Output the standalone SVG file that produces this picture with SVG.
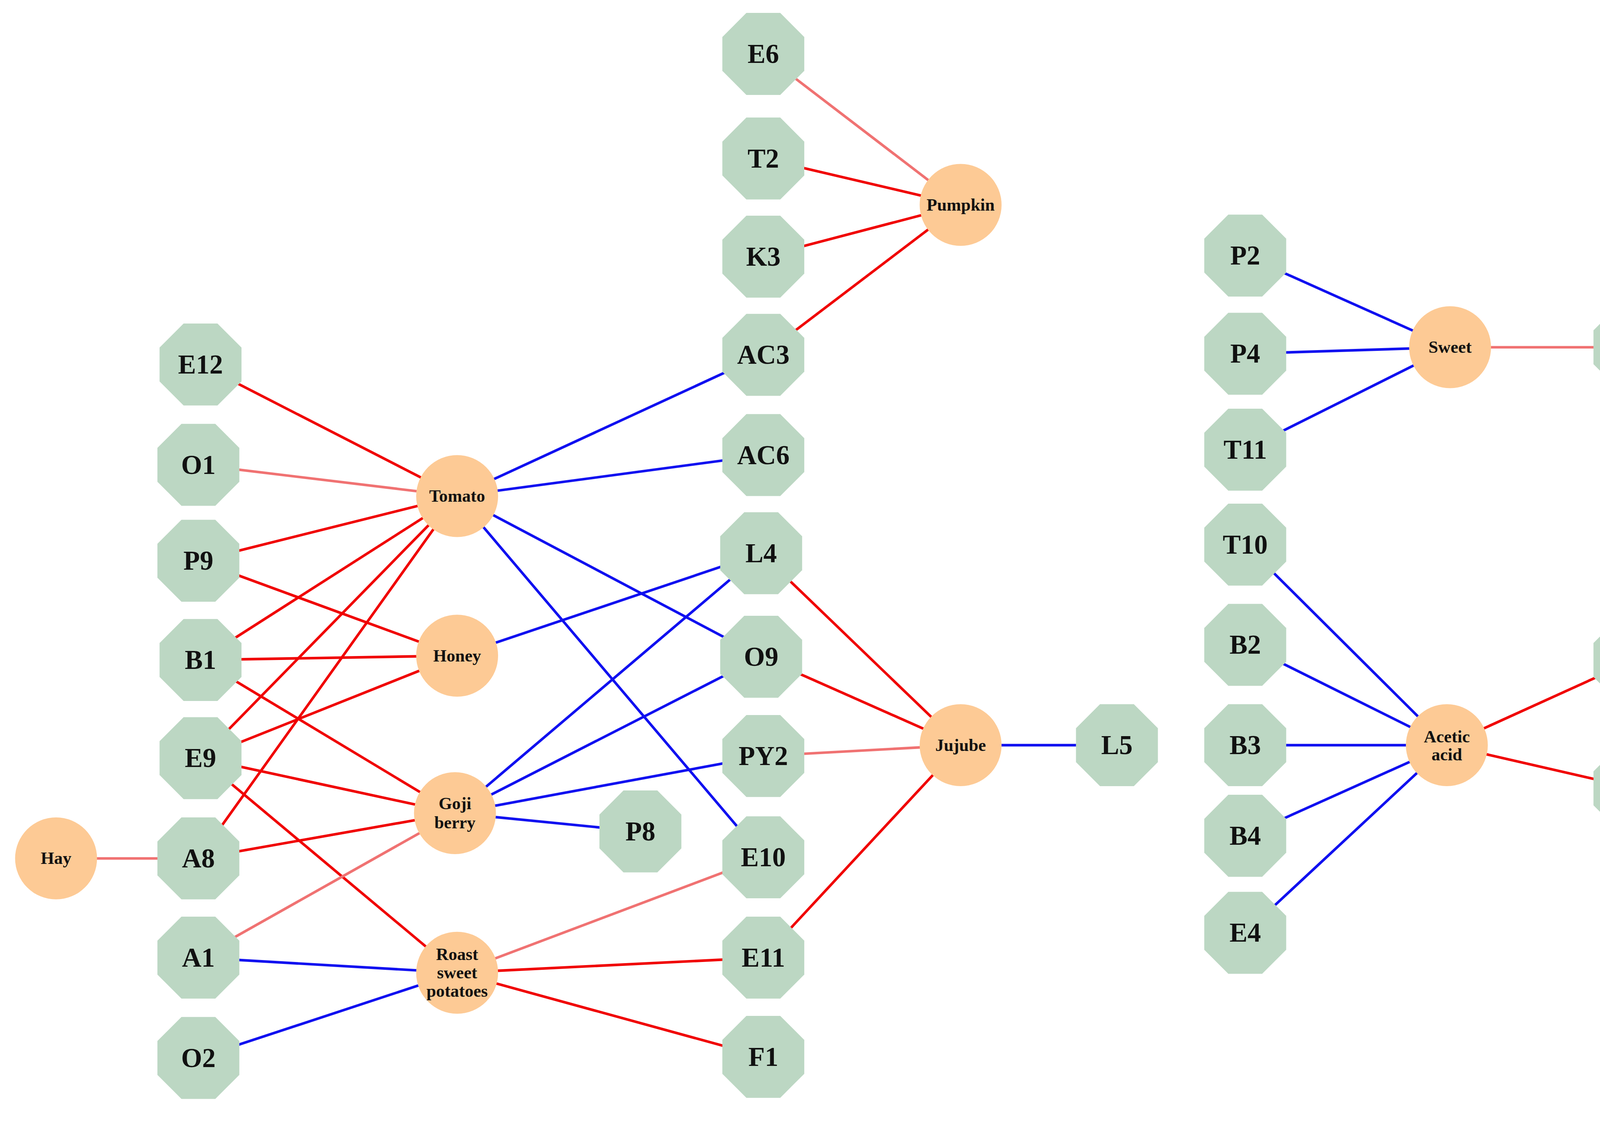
<svg xmlns="http://www.w3.org/2000/svg" xmlns:xlink="http://www.w3.org/1999/xlink" width="4328" height="2869" viewBox="0 0 4328 2869">
<style>
.r{stroke:#f00000;stroke-width:2.4}
.l{stroke:#f07272;stroke-width:2.4}
.b{stroke:#1010f0;stroke-width:2.4}
.oct{fill:#bcd7c3}
.cir{fill:#fdca95}
.t{font-family:"Liberation Serif",serif;font-weight:bold;font-size:25px;text-anchor:middle;dominant-baseline:central;fill:#111}
.s{font-family:"Liberation Serif",serif;font-weight:bold;font-size:16px;text-anchor:middle;dominant-baseline:central;fill:#111}
</style>
<defs><polygon id="o" class="oct" points="-15.7,-38 15.7,-38 38,-15.7 38,15.7 15.7,38 -15.7,38 -38,15.7 -38,-15.7"/></defs>
<rect width="4328" height="2869" fill="#fff"/>
<g transform="scale(2.76)">
<g id="connectors">
<line class="l" x1="708" y1="50" x2="891" y2="190"/>
<line class="r" x1="708" y1="147" x2="891" y2="190"/>
<line class="r" x1="708" y1="238" x2="891" y2="190"/>
<line class="r" x1="708" y1="329" x2="891" y2="190"/>
<line class="r" x1="186" y1="338" x2="424" y2="460"/>
<line class="l" x1="184" y1="431" x2="424" y2="460"/>
<line class="r" x1="184" y1="520" x2="424" y2="460"/>
<line class="r" x1="186" y1="612" x2="424" y2="460"/>
<line class="r" x1="186" y1="703" x2="424" y2="460"/>
<line class="r" x1="184" y1="796" x2="424" y2="460"/>
<line class="b" x1="424" y1="460" x2="708" y2="329"/>
<line class="b" x1="424" y1="460" x2="708" y2="422"/>
<line class="b" x1="424" y1="460" x2="706" y2="609"/>
<line class="b" x1="424" y1="460" x2="708" y2="795"/>
<line class="r" x1="184" y1="520" x2="424" y2="608"/>
<line class="r" x1="186" y1="612" x2="424" y2="608"/>
<line class="r" x1="186" y1="703" x2="424" y2="608"/>
<line class="b" x1="424" y1="608" x2="706" y2="513"/>
<line class="r" x1="186" y1="612" x2="422" y2="754"/>
<line class="r" x1="186" y1="703" x2="422" y2="754"/>
<line class="r" x1="186" y1="703" x2="424" y2="902"/>
<line class="r" x1="184" y1="796" x2="422" y2="754"/>
<line class="l" x1="184" y1="888" x2="422" y2="754"/>
<line class="b" x1="422" y1="754" x2="706" y2="513"/>
<line class="b" x1="422" y1="754" x2="706" y2="609"/>
<line class="b" x1="422" y1="754" x2="708" y2="701"/>
<line class="b" x1="422" y1="754" x2="594" y2="771"/>
<line class="b" x1="184" y1="888" x2="424" y2="902"/>
<line class="b" x1="184" y1="981" x2="424" y2="902"/>
<line class="l" x1="424" y1="902" x2="708" y2="795"/>
<line class="r" x1="424" y1="902" x2="708" y2="888"/>
<line class="r" x1="424" y1="902" x2="708" y2="980"/>
<line class="l" x1="52" y1="796" x2="184" y2="796"/>
<line class="r" x1="706" y1="513" x2="891" y2="691"/>
<line class="r" x1="706" y1="609" x2="891" y2="691"/>
<line class="l" x1="708" y1="701" x2="891" y2="691"/>
<line class="r" x1="708" y1="888" x2="891" y2="691"/>
<line class="b" x1="891" y1="691" x2="1036" y2="691"/>
<line class="b" x1="1155" y1="237" x2="1345" y2="322"/>
<line class="b" x1="1155" y1="328" x2="1345" y2="322"/>
<line class="b" x1="1155" y1="417" x2="1345" y2="322"/>
<line class="l" x1="1345" y1="322" x2="1516" y2="322"/>
<line class="b" x1="1155" y1="505" x2="1342" y2="691"/>
<line class="b" x1="1155" y1="598" x2="1342" y2="691"/>
<line class="b" x1="1155" y1="691" x2="1342" y2="691"/>
<line class="b" x1="1155" y1="775" x2="1342" y2="691"/>
<line class="b" x1="1155" y1="865" x2="1342" y2="691"/>
<line class="r" x1="1342" y1="691" x2="1516" y2="612"/>
<line class="r" x1="1342" y1="691" x2="1516" y2="731"/>
</g>
<g id="E6" transform="translate(708,50)"><use href="#o"/><text class="t">E6</text></g>
<g id="T2" transform="translate(708,147)"><use href="#o"/><text class="t">T2</text></g>
<g id="K3" transform="translate(708,238)"><use href="#o"/><text class="t">K3</text></g>
<g id="AC3" transform="translate(708,329)"><use href="#o"/><text class="t">AC3</text></g>
<g id="AC6" transform="translate(708,422)"><use href="#o"/><text class="t">AC6</text></g>
<g id="L4" transform="translate(706,513)"><use href="#o"/><text class="t">L4</text></g>
<g id="O9" transform="translate(706,609)"><use href="#o"/><text class="t">O9</text></g>
<g id="PY2" transform="translate(708,701)"><use href="#o"/><text class="t">PY2</text></g>
<g id="E10" transform="translate(708,795)"><use href="#o"/><text class="t">E10</text></g>
<g id="E11" transform="translate(708,888)"><use href="#o"/><text class="t">E11</text></g>
<g id="F1" transform="translate(708,980)"><use href="#o"/><text class="t">F1</text></g>
<g id="E12" transform="translate(186,338)"><use href="#o"/><text class="t">E12</text></g>
<g id="O1" transform="translate(184,431)"><use href="#o"/><text class="t">O1</text></g>
<g id="P9" transform="translate(184,520)"><use href="#o"/><text class="t">P9</text></g>
<g id="B1" transform="translate(186,612)"><use href="#o"/><text class="t">B1</text></g>
<g id="E9" transform="translate(186,703)"><use href="#o"/><text class="t">E9</text></g>
<g id="A8" transform="translate(184,796)"><use href="#o"/><text class="t">A8</text></g>
<g id="A1" transform="translate(184,888)"><use href="#o"/><text class="t">A1</text></g>
<g id="O2" transform="translate(184,981)"><use href="#o"/><text class="t">O2</text></g>
<g id="P8" transform="translate(594,771)"><use href="#o"/><text class="t">P8</text></g>
<g id="L5" transform="translate(1036,691)"><use href="#o"/><text class="t">L5</text></g>
<g id="P2" transform="translate(1155,237)"><use href="#o"/><text class="t">P2</text></g>
<g id="P4" transform="translate(1155,328)"><use href="#o"/><text class="t">P4</text></g>
<g id="T11" transform="translate(1155,417)"><use href="#o"/><text class="t">T11</text></g>
<g id="F3" transform="translate(1516,322)"><use href="#o"/><text class="t">F3</text></g>
<g id="T10" transform="translate(1155,505)"><use href="#o"/><text class="t">T10</text></g>
<g id="B2" transform="translate(1155,598)"><use href="#o"/><text class="t">B2</text></g>
<g id="B3" transform="translate(1155,691)"><use href="#o"/><text class="t">B3</text></g>
<g id="B4" transform="translate(1155,775)"><use href="#o"/><text class="t">B4</text></g>
<g id="E4" transform="translate(1155,865)"><use href="#o"/><text class="t">E4</text></g>
<g id="AC1" transform="translate(1516,612)"><use href="#o"/><text class="t">AC1</text></g>
<g id="AC2" transform="translate(1516,731)"><use href="#o"/><text class="t">AC2</text></g>
<g id="Pumpkin" transform="translate(891,190)"><circle class="cir" r="38"/><text class="s">Pumpkin</text></g>
<g id="Tomato" transform="translate(424,460)"><circle class="cir" r="38"/><text class="s">Tomato</text></g>
<g id="Honey" transform="translate(424,608)"><circle class="cir" r="38"/><text class="s">Honey</text></g>
<g id="Goji" transform="translate(422,754)"><circle class="cir" r="38"/><text class="s" y="-9">Goji</text><text class="s" y="9">berry</text></g>
<g id="Roast" transform="translate(424,902)"><circle class="cir" r="38"/><text class="s" y="-17">Roast</text><text class="s" y="0">sweet</text><text class="s" y="17">potatoes</text></g>
<g id="Hay" transform="translate(52,796)"><circle class="cir" r="38"/><text class="s">Hay</text></g>
<g id="Jujube" transform="translate(891,691)"><circle class="cir" r="38"/><text class="s">Jujube</text></g>
<g id="Sweet" transform="translate(1345,322)"><circle class="cir" r="38"/><text class="s">Sweet</text></g>
<g id="Acetic" transform="translate(1342,691)"><circle class="cir" r="38"/><text class="s" y="-8">Acetic</text><text class="s" y="9">acid</text></g>
</g>
</svg>
